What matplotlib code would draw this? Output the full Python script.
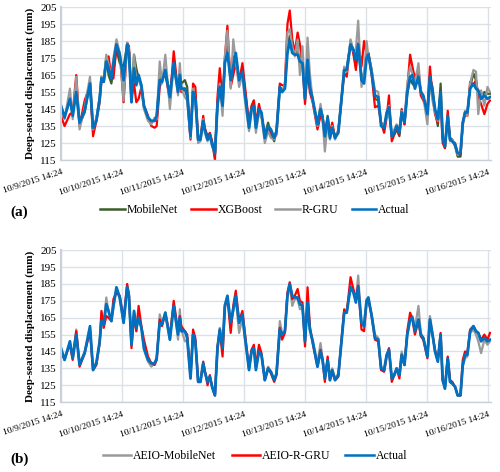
import matplotlib
matplotlib.use("Agg")
import matplotlib.pyplot as plt
from matplotlib.lines import Line2D

plt.rcParams['font.family'] = ['Liberation Serif', 'DejaVu Serif']

# hours after 10/9/2015 14:24
hours = [0, 1.4, 3.5, 4.6, 6.0, 7.3, 9.3, 11.4, 12.6, 13.9,
         15.2, 15.9, 16.8, 17.8, 18.7, 19.8, 20.6, 21.8, 23.1, 24.6,
         26.0, 26.7, 27.7, 28.7, 29.6, 30.5, 31.6, 32.6, 34.2, 35.5,
         36.8, 37.6, 38.8, 39.7, 41.0, 42.8, 44.3, 46.0, 46.7, 47.3,
         48.7, 49.6, 50.9, 51.9, 52.8, 53.9, 54.8, 55.9, 56.5, 57.6,
         58.5, 59.4, 60.5, 61.5, 62.4, 63.5, 64.4, 65.4, 66.7, 67.7,
         68.7, 70.0, 71.3, 72.2, 73.9, 74.9, 75.8, 76.6, 77.8, 78.8,
         80.1, 81.4, 82.5, 83.8, 84.7, 86.0, 86.9, 88.0, 89.0, 89.9,
         90.9, 91.9, 93.0, 93.9, 94.9, 95.9, 96.9, 97.8, 98.9, 100.8,
         102.0, 102.8, 103.7, 104.8, 105.7, 106.6, 107.7, 109.0, 110.0, 111.3,
         112.3, 113.8, 114.9, 115.9, 116.8, 118.1, 119.1, 120.1, 120.8, 122.1,
         123.4, 124.7, 125.8, 127.0, 128.0, 128.9, 130.0, 131.0, 131.9, 133.0,
         133.9, 135.0, 136.1, 137.2, 138.1, 139.1, 140.5, 141.4, 142.4, 144.0,
         145.0, 146.0, 147.0, 148.1, 149.2, 150.0, 150.9, 152.0, 152.9, 153.8,
         154.9, 155.9, 157.0, 157.9, 158.8, 159.7, 160.8, 162.1, 163.1, 164.0,
         165.1, 166.4, 167.6, 168.6]

actual = [147, 140, 151, 141, 155, 137, 144, 160, 134, 138,
          151, 163, 161, 173, 169, 163, 172, 183, 177, 162,
          183, 178, 149, 169, 159, 165, 159, 147, 140, 138,
          138, 141, 162, 161, 168, 152, 172, 155, 165, 157,
          157, 153, 129, 155, 151, 127, 127, 138, 133, 127,
          130, 124, 119, 147, 158, 147, 172, 178, 162, 170,
          178, 162, 167, 155, 134, 145, 147, 134, 145, 143,
          128, 135, 133, 128, 132, 158, 155, 157, 178, 185,
          178, 177, 177, 173, 172, 151, 174, 158, 151, 136,
          145, 140, 129, 140, 128, 134, 128, 131, 147, 168,
          168, 183, 180, 174, 183, 162, 160, 175, 177, 166,
          153, 152, 135, 134, 143, 146, 129, 131, 135, 131,
          143, 137, 155, 164, 165, 157, 164, 155, 153, 142,
          164, 155, 145, 139, 155, 128, 123, 141, 127, 126,
          124, 119, 119, 137, 143, 143, 157, 160, 157, 156,
          151, 153, 151, 152]

mobilenet = [146, 141, 150, 143, 156, 136, 143, 161, 133, 139,
             152, 164, 162, 175, 165, 160, 168, 180, 172, 170,
             183, 180, 150, 177, 169, 163, 158, 146, 139, 137,
             139, 140, 163, 164, 165, 155, 170, 157, 165, 160,
             162, 158, 128, 156, 153, 126, 128, 138, 133, 128,
             130, 125, 118, 148, 159, 148, 173, 183, 162, 176,
             172, 164, 166, 157, 136, 146, 150, 135, 145, 141,
             130, 137, 130, 126, 133, 158, 156, 158, 182, 188,
             180, 180, 178, 176, 176, 152, 176, 160, 150, 137,
             146, 141, 128, 141, 129, 135, 129, 132, 148, 167,
             169, 184, 178, 170, 180, 165, 164, 177, 178, 168,
             151, 150, 137, 134, 142, 145, 130, 130, 133, 129,
             144, 136, 154, 163, 160, 158, 165, 156, 152, 143,
             163, 158, 144, 135, 160, 130, 122, 139, 128, 127,
             123, 117, 117, 137, 143, 142, 158, 166, 162, 153,
             152, 155, 154, 154]

xgboost = [141, 135, 142, 143, 165, 135, 150, 159, 129, 138,
           149, 162, 161, 174, 176, 163, 163, 182, 178, 149,
           184, 182, 152, 160, 149, 151, 158, 147, 141, 135,
           134, 135, 158, 162, 166, 150, 179, 155, 168, 155,
           157, 152, 127, 160, 158, 127, 128, 141, 134, 129,
           131, 126, 115, 152, 169, 150, 175, 194, 158, 165,
           172, 161, 172, 160, 136, 147, 150, 136, 148, 141,
           130, 133, 131, 128, 130, 160, 159, 159, 195, 203,
           186, 178, 190, 183, 172, 148, 168, 155, 149, 133,
           141, 140, 131, 139, 131, 137, 128, 132, 147, 166,
           164, 185, 178, 168, 184, 170, 185, 177, 178, 165,
           146, 147, 137, 131, 140, 153, 126, 130, 134, 130,
           145, 136, 157, 177, 170, 163, 168, 153, 150, 145,
           170, 153, 142, 137, 152, 125, 122, 144, 127, 126,
           125, 118, 118, 136, 142, 141, 161, 159, 162, 152,
           148, 142, 148, 150]

rgru = [145, 139, 157, 139, 164, 133, 146, 164, 133, 140,
        151, 164, 163, 177, 171, 165, 175, 186, 178, 150,
        184, 180, 149, 177, 160, 165, 157, 145, 138, 136,
        140, 139, 173, 160, 177, 145, 172, 153, 172, 157,
        152, 150, 128, 157, 150, 125, 126, 139, 131, 126,
        129, 123, 119, 146, 160, 141, 176, 191, 157, 186,
        173, 158, 165, 151, 132, 144, 146, 131, 143, 140,
        125, 132, 128, 127, 131, 156, 155, 160, 190, 192,
        182, 176, 186, 165, 182, 152, 187, 166, 150, 135,
        148, 139, 120, 137, 127, 135, 127, 133, 146, 170,
        167, 186, 179, 180, 197, 158, 166, 185, 176, 168,
        156, 155, 136, 135, 141, 147, 129, 133, 136, 133,
        144, 138, 160, 170, 166, 160, 172, 155, 152, 136,
        162, 150, 143, 138, 153, 129, 124, 140, 126, 127,
        124, 118, 120, 135, 144, 141, 160, 168, 167, 142,
        156, 147, 158, 155]

aeio_mobilenet = [146, 140, 150, 142, 158, 138, 145, 158, 135, 139,
                  150, 168, 162, 177, 168, 163, 171, 182, 176, 162,
                  183, 177, 150, 168, 157, 165, 159, 146, 139, 136,
                  138, 140, 167, 162, 167, 152, 173, 152, 170, 158,
                  151, 152, 130, 155, 151, 127, 127, 137, 133, 128,
                  130, 124, 119, 146, 159, 148, 173, 177, 161, 169,
                  176, 156, 165, 153, 135, 146, 148, 135, 145, 142,
                  129, 136, 133, 128, 132, 163, 156, 157, 179, 184,
                  172, 176, 176, 170, 171, 152, 172, 158, 152, 138,
                  150, 141, 130, 140, 130, 135, 129, 132, 147, 168,
                  169, 184, 181, 176, 190, 161, 161, 176, 176, 167,
                  155, 153, 136, 135, 143, 146, 130, 132, 134, 132,
                  145, 138, 155, 163, 166, 159, 172, 156, 153, 143,
                  166, 156, 145, 139, 155, 129, 123, 141, 127, 126,
                  124, 119, 119, 136, 141, 142, 156, 158, 155, 151,
                  144, 152, 149, 151]

aeio_rgru = [143, 141, 149, 140, 157, 136, 144, 157, 134, 137,
             150, 169, 159, 166, 165, 163, 176, 180, 178, 164,
             185, 179, 147, 166, 157, 172, 160, 152, 142, 138,
             137, 140, 164, 160, 168, 154, 175, 157, 166, 160,
             157, 155, 130, 158, 153, 127, 128, 139, 134, 125,
             131, 124, 119, 148, 157, 142, 171, 177, 156, 172,
             181, 163, 169, 157, 135, 146, 149, 136, 149, 144,
             128, 135, 132, 127, 131, 159, 152, 156, 180, 186,
             176, 178, 182, 175, 174, 148, 183, 160, 150, 136,
             146, 140, 127, 142, 128, 133, 128, 130, 148, 170,
             168, 189, 182, 176, 184, 158, 157, 174, 176, 166,
             152, 151, 134, 133, 142, 147, 127, 131, 135, 129,
             143, 137, 157, 168, 164, 155, 163, 154, 152, 141,
             163, 155, 146, 140, 156, 128, 124, 142, 128, 127,
             124, 119, 119, 140, 145, 144, 158, 160, 157, 156,
             152, 155, 152, 156]

tick_hours = [0, 24, 48, 72, 96, 120, 144, 168]
tick_labels = ['10/9/2015 14:24', '10/10/2015 14:24', '10/11/2015 14:24',
               '10/12/2015 14:24', '10/13/2015 14:24', '10/14/2015 14:24',
               '10/15/2015 14:24', '10/16/2015 14:24']
y_ticks = list(range(115, 206, 10))

C_BLUE = '#0070C0'
C_RED = '#FF0000'
C_GRAY = '#9A9A9A'
C_GREEN = '#3B5E2B'
GRID = '#DCE1E8'

fig = plt.figure(figsize=(5.0, 4.72), dpi=100)
ax1 = fig.add_axes([0.122, 0.661, 0.860, 0.324])
ax2 = fig.add_axes([0.122, 0.148, 0.860, 0.322])


def style_axis(ax):
    ax.set_xlim(0, 169)
    ax.set_ylim(115, 205)
    ax.set_yticks(y_ticks)
    ax.set_xticks(tick_hours)
    ax.set_xticklabels(tick_labels, rotation=18, ha='right',
                       rotation_mode='anchor', fontsize=6.8)
    ax.tick_params(axis='y', labelsize=8, length=0, pad=3)
    ax.tick_params(axis='x', length=0, pad=6)
    ax.grid(True, color=GRID, linewidth=1.0)
    ax.set_axisbelow(True)
    for s in ['top', 'right']:
        ax.spines[s].set_visible(False)
    ax.spines['left'].set_color('#C9D0DA')
    ax.spines['left'].set_linewidth(1.5)
    ax.spines['bottom'].set_color('#C9D0DA')
    ax.spines['bottom'].set_linewidth(1.0)
    ax.set_ylabel('Deep-seated displacement (mm)', fontsize=8,
                  fontweight='bold', labelpad=4)


ax1.plot(hours, mobilenet, color=C_GREEN, lw=1.6)
ax1.plot(hours, xgboost, color=C_RED, lw=1.6)
ax1.plot(hours, rgru, color=C_GRAY, lw=1.6)
ax1.plot(hours, actual, color=C_BLUE, lw=2.0)
style_axis(ax1)

ax2.plot(hours, aeio_mobilenet, color=C_GRAY, lw=1.6)
ax2.plot(hours, aeio_rgru, color=C_RED, lw=1.6)
ax2.plot(hours, actual, color=C_BLUE, lw=2.0)
style_axis(ax2)

h_a = [Line2D([], [], color=C_GREEN, lw=1.8), Line2D([], [], color=C_RED, lw=1.8),
       Line2D([], [], color=C_GRAY, lw=1.8), Line2D([], [], color=C_BLUE, lw=1.8)]
fig.legend(h_a, ['MobileNet', 'XGBoost', 'R-GRU', 'Actual'], ncol=4,
           loc='center', bbox_to_anchor=(0.51, 0.555), frameon=False,
           fontsize=8.5, handlelength=2.1, handletextpad=0.15, columnspacing=1.1)

h_b = [Line2D([], [], color=C_GRAY, lw=1.8), Line2D([], [], color=C_RED, lw=1.8),
       Line2D([], [], color=C_BLUE, lw=1.8)]
fig.legend(h_b, ['AEIO-MobileNet', 'AEIO-R-GRU', 'Actual'], ncol=3,
           loc='center', bbox_to_anchor=(0.51, 0.034), frameon=False,
           fontsize=8.5, handlelength=2.4, handletextpad=0.15, columnspacing=1.3)

fig.text(0.02, 0.551, '(a)', fontsize=11, fontweight='bold', va='center')
fig.text(0.02, 0.027, '(b)', fontsize=11, fontweight='bold', va='center')

fig.savefig('out.png', dpi=100)
